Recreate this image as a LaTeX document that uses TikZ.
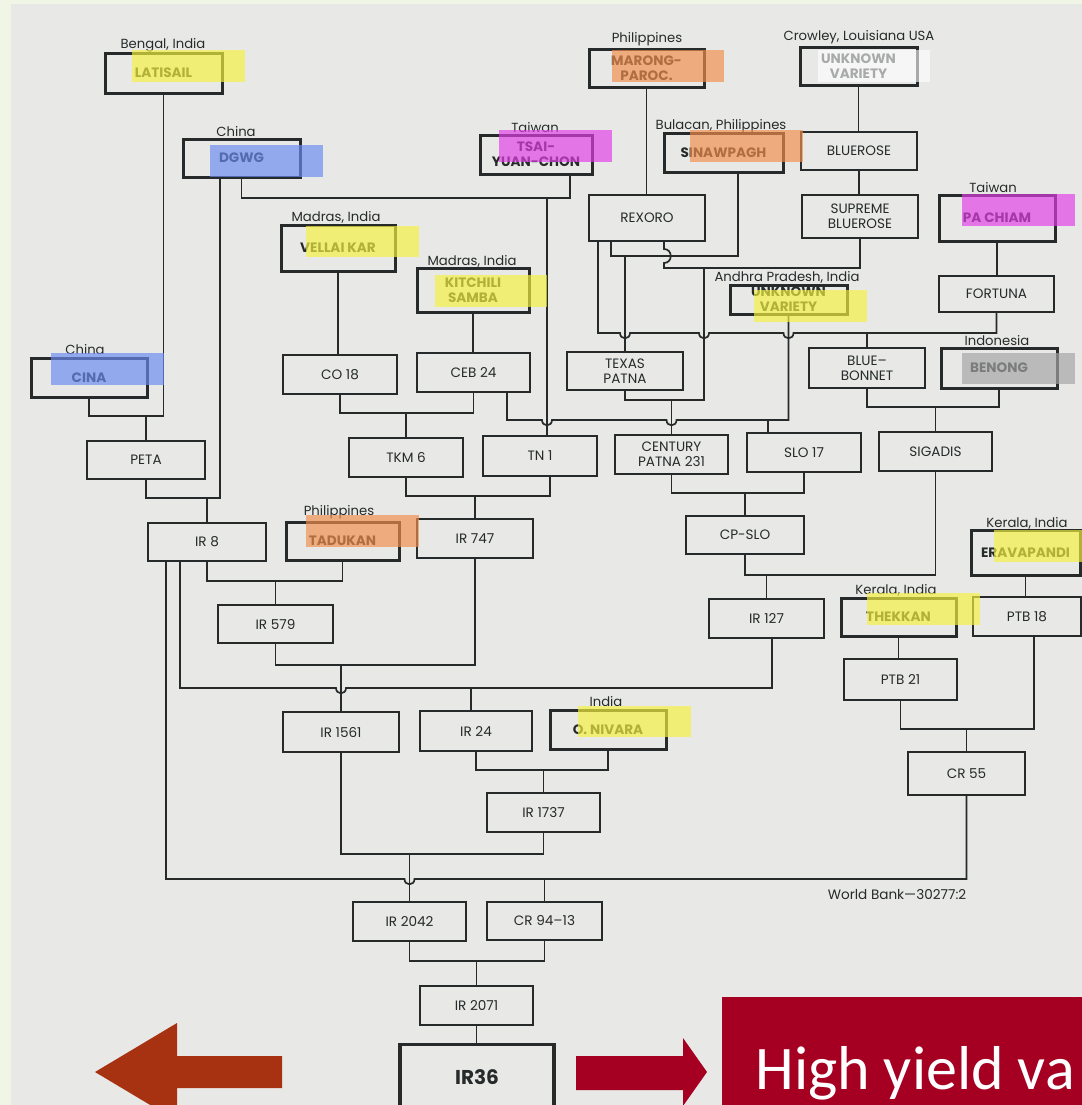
\documentclass[tikz,border=0pt]{standalone}
\usepackage{fontspec}
\setmainfont{Poppins}
\newfontfamily\slidefont{Carlito}
\usepackage{tikz}
\usetikzlibrary{calc}
\definecolor{framegreen}{HTML}{F1F5E6}
\definecolor{scangray}{HTML}{E8E9E7}
\definecolor{inkgray}{HTML}{262A2A}
\definecolor{hlyellow}{HTML}{F4F140}
\definecolor{hlblue}{HTML}{6C8BF2}
\definecolor{hlmagenta}{HTML}{E23FE6}
\definecolor{hlorange}{HTML}{F28E4C}
\definecolor{hlgray}{HTML}{A4A4A4}
\definecolor{arrowbrown}{HTML}{A63211}
\definecolor{slidered}{HTML}{A50021}
\tikzset{
  boxnode/.style={draw=inkgray, line width=1pt, text=inkgray, align=center, inner sep=0pt,
    minimum width=57.5pt, minimum height=19.5pt, font=\fontsize{6.8}{7.6}\selectfont},
  originnode/.style={boxnode, line width=1.5pt, font=\fontsize{6.8}{7.6}\selectfont\bfseries},
  wh/.style 2 args={minimum width=#1*0.5pt, minimum height=#2*0.5pt},
  placenode/.style={text=inkgray, inner sep=0pt, font=\fontsize{6.6}{7}\selectfont},
  conn/.style={draw=inkgray, line width=0.85pt},
  hilite/.style={fill opacity=0.68}
}
\begin{document}
\begin{tikzpicture}[x=0.5pt, y=-0.5pt]
  \useasboundingbox (0,0) rectangle (1082,1105);
  \clip (0,0) rectangle (1082,1105);
  \fill[framegreen] (0,0) rectangle (1082,1105);
  \fill[scangray] (11,4) rectangle (1082,1105);

  % founders and crosses
  \node[originnode, wh={117}{40}] (latisail) at (163.5,73) {LATISAIL};
  \node[originnode, wh={115}{38}] (marong) at (646.5,68) {MARONG-\\PAROC.};
  \node[originnode, wh={117}{38}] (unkusa) at (858.5,66) {UNKNOWN\\VARIETY};
  \node[originnode, wh={117}{38}] (dgwg) at (241.5,158) {DGWG};
  \node[originnode, wh={112}{39}] (tsai) at (536,154.5) {TSAI-\\YUAN-CHON};
  \node[originnode, wh={119}{39}] (sinaw) at (723.5,152.5) {SINAWPAGH};
  \node[boxnode, wh={116}{38}] (bluerose) at (859,151) {BLUEROSE};
  \node[boxnode, wh={116}{46}] (rexoro) at (647,218) {REXORO};
  \node[boxnode, wh={116}{43}] (supreme) at (860,216.5) {SUPREME\\BLUEROSE};
  \node[originnode, wh={116}{46}] (pachiam) at (997,218) {PA CHIAM};
  \node[originnode, wh={114}{46}] (vellai) at (338,248) {VELLAI KAR};
  \node[originnode, wh={112}{44}] (kitchili) at (473,290) {KITCHILI\\SAMBA};
  \node[originnode, wh={117}{29}] (unkap) at (788.5,299.5) {UNKNOWN\\VARIETY};
  \node[boxnode, wh={115}{36}] (fortuna) at (996.5,294) {FORTUNA};
  \node[originnode, wh={116}{39}] (cina) at (89,377.5) {CINA};
  \node[boxnode, wh={114}{39}] (co18) at (340,374.5) {CO 18};
  \node[boxnode, wh={113}{39}] (ceb24) at (473.5,372.5) {CEB 24};
  \node[boxnode, wh={116}{38}] (texas) at (625,371) {TEXAS\\PATNA};
  \node[boxnode, wh={116}{40}] (bluebon) at (867,368) {BLUE--\\BONNET};
  \node[originnode, wh={116}{40}] (benong) at (999,368) {BENONG};
  \node[boxnode, wh={118}{38}] (peta) at (146,460) {PETA};
  \node[boxnode, wh={114}{39}] (tkm6) at (406,457.5) {TKM 6};
  \node[boxnode, wh={114}{40}] (tn1) at (540,456) {TN 1};
  \node[boxnode, wh={113}{39}] (cp231) at (671.5,454.5) {CENTURY\\PATNA 231};
  \node[boxnode, wh={114}{39}] (slo17) at (804,452.5) {SLO 17};
  \node[boxnode, wh={113}{39}] (sigadis) at (935.5,451.5) {SIGADIS};
  \node[boxnode, wh={118}{38}] (ir8) at (207,542) {IR 8};
  \node[originnode, wh={113}{38}] (tadukan) at (342.5,541) {TADUKAN};
  \node[boxnode, wh={116}{39}] (ir747) at (475,538.5) {IR 747};
  \node[boxnode, wh={118}{38}] (cpslo) at (745,535) {CP-SLO};
  \node[originnode, wh={109}{45}] (erav) at (1025.5,552.5) {ERAVAPANDI};
  \node[boxnode, wh={115}{38}] (ir579) at (275.5,624) {IR 579};
  \node[boxnode, wh={115}{39}] (ir127) at (766.5,618.5) {IR 127};
  \node[originnode, wh={115}{38}] (thekkan) at (898.5,617) {THEKKAN};
  \node[boxnode, wh={108}{39}] (ptb18) at (1027,616.5) {PTB 18};
  \node[boxnode, wh={113}{41}] (ptb21) at (900.5,679.5) {PTB 21};
  \node[boxnode, wh={116}{40}] (ir1561) at (341,732) {IR 1561};
  \node[boxnode, wh={112}{40}] (ir24) at (476,731) {IR 24};
  \node[originnode, wh={116}{39}] (nivara) at (608,729.5) {O. NIVARA};
  \node[boxnode, wh={117}{43}] (cr55) at (966.5,773.5) {CR 55};
  \node[boxnode, wh={113}{39}] (ir1737) at (543.5,812.5) {IR 1737};
  \node[boxnode, wh={113}{39}] (ir2042) at (409.5,921.5) {IR 2042};
  \node[boxnode, wh={115}{38}] (cr9413) at (544.5,921) {CR 94--13};
  \node[boxnode, wh={113}{39}] (ir2071) at (476.5,1005.5) {IR 2071};
  \node[boxnode, wh={154}{65}, line width=1.7pt, font=\fontsize{10}{11}\selectfont\bfseries] (ir36) at (477,1077) {IR36};

  % where they come from
  \node[placenode] (latisailplace) at (163,45) {Bengal, India};
  \node[placenode] (marongplace) at (647,39) {Philippines};
  \node[placenode] (unkusaplace) at (859,37) {Crowley, Louisiana USA};
  \node[placenode] (dgwgplace) at (236,132) {China};
  \node[placenode] (tsaiplace) at (535,128) {Taiwan};
  \node[placenode] (sinawplace) at (721,126) {Bulacan, Philippines};
  \node[placenode] (pachiamplace) at (993,188) {Taiwan};
  \node[placenode] (vellaiplace) at (336,217) {Madras, India};
  \node[placenode] (kitchiliplace) at (472,261) {Madras, India};
  \node[placenode] (unkapplace) at (787,277) {Andhra Pradesh, India};
  \node[placenode] (cinaplace) at (85,350) {China};
  \node[placenode] (benongplace) at (997,341) {Indonesia};
  \node[placenode] (tadukanplace) at (339,512) {Philippines};
  \node[placenode] (eravplace) at (1027,523) {Kerala, India};
  \node[placenode] (thekkanplace) at (896,590) {Kerala, India};
  \node[placenode] (nivaraplace) at (606,702) {India};
  \node[placenode, font=\fontsize{6.8}{7}\selectfont] (source) at (897,895) {World Bank---30277:2};

  % bus levels and offset attach points
  \coordinate (petabus) at (0,416);
  \coordinate (ir8bus) at (0,498);
  \coordinate (tn1bus) at (0,198);
  \coordinate (tkm6bus) at (0,413);
  \coordinate (slo17bus) at (0,420);
  \coordinate (texasbus) at (0,256);
  \coordinate (rsbus) at (0,268);
  \coordinate (cpbus) at (0,400);
  \coordinate (bluebonbus) at (0,333);
  \coordinate (sigadisbus) at (0,407);
  \coordinate (ir747bus) at (0,496);
  \coordinate (cpslobus) at (0,493);
  \coordinate (ir127bus) at (0,575);
  \coordinate (cr55bus) at (0,729);
  \coordinate (ir579bus) at (0,581);
  \coordinate (ir1561bus) at (0,665);
  \coordinate (ir24bus) at (0,688);
  \coordinate (ir1737bus) at (0,770);
  \coordinate (ir2042bus) at (0,854);
  \coordinate (cr9413bus) at (0,879);
  \coordinate (ir2071bus) at (0,961);
  \coordinate (dgwgleft) at ([xshift=-10.75pt]dgwg.south);
  \coordinate (tsairight) at ([xshift=17pt]tsai.south);
  \coordinate (tn1top) at ([xshift=3.5pt]tn1.north);
  \coordinate (tn1right) at ([xshift=5pt]tn1.south);
  \coordinate (ceb24right) at ([xshift=16.75pt]ceb24.south);
  \coordinate (slo17left) at ([xshift=-18pt]slo17.north);
  \coordinate (rexoroleft) at ([xshift=-24.5pt]rexoro.south);
  \coordinate (rexoromid) at ([xshift=-18pt]rexoro.south);
  \coordinate (rexororight) at ([xshift=8.5pt]rexoro.south);
  \coordinate (sinawright) at ([xshift=7.25pt]sinaw.south);
  \coordinate (rsdrop) at (704,268);
  \coordinate (ptb18right) at ([xshift=3.5pt]ptb18.south);
  \coordinate (ir8inner) at ([xshift=-13.5pt]ir8.south);
  \coordinate (ir8outer) at ([xshift=-20.5pt]ir8.south);
  \coordinate (ir127right) at ([xshift=2.75pt]ir127.south);
  \coordinate (ir24left) at ([xshift=-2.5pt]ir24.north);

  % single descents
  \draw[conn] (vellai.south) -- (vellai.south |- co18.north);
  \draw[conn] (kitchili.south) -- (kitchili.south |- ceb24.north);
  \draw[conn] (marong.south) -- (marong.south |- rexoro.north);
  \draw[conn] (unkusa.south) -- (unkusa.south |- bluerose.north);
  \draw[conn] (bluerose.south) -- (bluerose.south |- supreme.north);
  \draw[conn] (pachiam.south) -- (pachiam.south |- fortuna.north);
  \draw[conn] (erav.south) -- (erav.south |- ptb18.north);
  \draw[conn] (thekkan.south) -- (thekkan.south |- ptb21.north);
  \draw[conn] (ir2071.south) -- (ir2071.south |- ir36.north);

  % crosses
  \draw[conn] (cina.south) |- (petabus -| latisail.south) -- (latisail.south);
  \draw[conn] (peta.north) -- (peta.north |- petabus);
  \draw[conn] (peta.south) |- (ir8bus -| dgwgleft) -- (dgwgleft);
  \draw[conn] (ir8.north) -- (ir8.north |- ir8bus);
  \draw[conn] (dgwg.south) |- (tn1bus -| tsairight) -- (tsairight);
  \draw[conn] (tn1top) -- (tn1top |- tn1bus);
  \draw[conn] (co18.south) |- (tkm6bus -| ceb24.south) -- (ceb24.south);
  \draw[conn] (tkm6.north) -- (tkm6.north |- tkm6bus);
  \draw[conn] (ceb24right) -- (507,420) -- (542,420) .. controls (542,427) and (552,427) .. (552,420)
    -- (666.5,420) .. controls (666.5,427) and (676.5,427) .. (676.5,420) -| (unkap.south);
  \draw[conn] (slo17left) -- (slo17left |- slo17bus);
  \draw[conn] (rexoromid) |- (texasbus -| sinawright) -- (sinawright);
  \draw[conn] (texas.north) -- (texas.north |- texasbus);
  \draw[conn] (rexororight) -- (664,249) .. controls (673,249) and (673,263) .. (664,263)
    |- (rsbus -| supreme.south) -- (supreme.south);
  \draw[conn] (texas.south) |- (cpbus -| rsdrop) -- (rsdrop);
  \draw[conn] (cp231.north) -- (cp231.north |- cpbus);
  \draw[conn] (rexoroleft) -- (598,333) -- (620,333) .. controls (620,340) and (630,340) .. (630,333)
    -- (699,333) .. controls (699,340) and (709,340) .. (709,333)
    -- (783.5,333) .. controls (783.5,340) and (793.5,340) .. (793.5,333) -| (fortuna.south);
  \draw[conn] (bluebon.north) -- (bluebon.north |- bluebonbus);
  \draw[conn] (bluebon.south) |- (sigadisbus -| benong.south) -- (benong.south);
  \draw[conn] (sigadis.north) -- (sigadis.north |- sigadisbus);
  \draw[conn] (tkm6.south) |- (ir747bus -| tn1right) -- (tn1right);
  \draw[conn] (ir747.north) -- (ir747.north |- ir747bus);
  \draw[conn] (cp231.south) |- (cpslobus -| slo17.south) -- (slo17.south);
  \draw[conn] (cpslo.north) -- (cpslo.north |- cpslobus);
  \draw[conn] (cpslo.south) |- (ir127bus -| sigadis.south) -- (sigadis.south);
  \draw[conn] (ir127.north) -- (ir127.north |- ir127bus);
  \draw[conn] (ptb21.south) |- (cr55bus -| ptb18right) -- (ptb18right);
  \draw[conn] (cr55.north) -- (cr55.north |- cr55bus);
  \draw[conn] (ir8.south) |- (ir579bus -| tadukan.south) -- (tadukan.south);
  \draw[conn] (ir579.north) -- (ir579.north |- ir579bus);
  \draw[conn] (ir579.south) |- (ir1561bus -| ir747.south) -- (ir747.south);
  \draw[conn] (ir1561.north) -- (ir1561.north |- ir1561bus);
  \draw[conn] (ir8inner) -- (180,688) -- (336,688) .. controls (336,695) and (346,695) .. (346,688)
    -| (ir127right);
  \draw[conn] (ir24left) -- (ir24left |- ir24bus);
  \draw[conn] (ir24.south) |- (ir1737bus -| nivara.south) -- (nivara.south);
  \draw[conn] (ir1737.north) -- (ir1737.north |- ir1737bus);
  \draw[conn] (ir1561.south) |- (ir2042bus -| ir1737.south) -- (ir1737.south);
  \draw[conn] (ir2042.north) -- (ir2042.north |- ir2042bus);
  \draw[conn] (ir8outer) -- (166,879) -- (404.5,879) .. controls (404.5,886) and (414.5,886) .. (414.5,879)
    -| (cr55.south);
  \draw[conn] (cr9413.north) -- (cr9413.north |- cr9413bus);
  \draw[conn] (ir2042.south) |- (ir2071bus -| cr9413.south) -- (cr9413.south);
  \draw[conn] (ir2071.north) -- (ir2071.north |- ir2071bus);

  % marker highlights
  \fill[hlyellow, hilite] (132,50) rectangle (245,82);
  \fill[hlorange, hilite] (612,50) rectangle (724,82);
  \fill[white, fill opacity=0.6] (818,50) rectangle (930,82);
  \fill[hlblue, hilite] (210,145) rectangle (323,177);
  \fill[hlmagenta, hilite] (499,130) rectangle (612,162);
  \fill[hlorange, hilite] (690,130) rectangle (803,162);
  \fill[hlmagenta, hilite] (962,194) rectangle (1075,226);
  \fill[hlyellow, hilite] (306,226) rectangle (419,257);
  \fill[hlyellow, hilite] (435,275) rectangle (547,307);
  \fill[hlyellow, hilite] (754,290) rectangle (867,322);
  \fill[hlblue, hilite] (51,353) rectangle (164,385);
  \fill[hlgray, hilite] (962,353) rectangle (1075,384);
  \fill[hlorange, hilite] (306,515) rectangle (419,547);
  \fill[hlyellow, hilite] (994,530) rectangle (1082,562);
  \fill[hlyellow, hilite] (867,593) rectangle (980,625);
  \fill[hlyellow, hilite] (578,706) rectangle (691,737);

  % slide overlay
  \fill[arrowbrown] (95,1072) -- (177,1023) -- (177,1056) -- (282,1056) -- (282,1088)
    -- (177,1088) -- (177,1121) -- cycle;
  \fill[slidered] (576,1056) -- (683,1056) -- (683,1038) -- (707,1072) -- (683,1106)
    -- (683,1090) -- (576,1090) -- cycle;
  \fill[slidered] (722,997) rectangle (1082,1105);
  \node[text=white, anchor=base west, inner sep=0pt, font=\slidefont\fontsize{31}{34}\selectfont] (hyv) at (755,1089) {High yield va};
\end{tikzpicture}
\end{document}
